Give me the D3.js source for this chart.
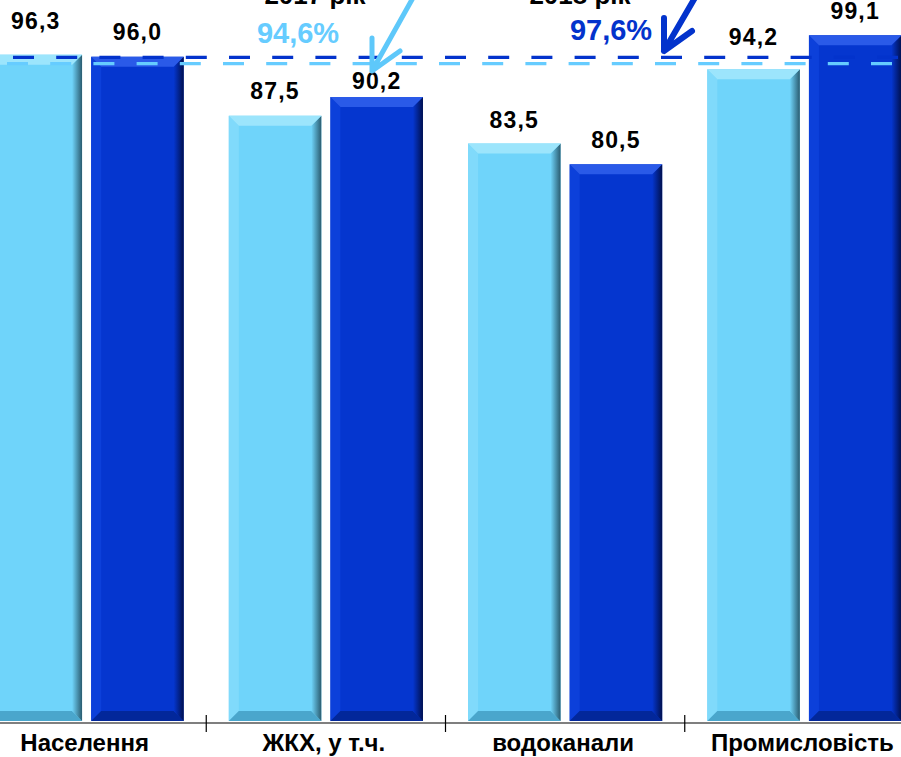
<!DOCTYPE html>
<html>
<head>
<meta charset="utf-8">
<script src="https://cdn.jsdelivr.net/npm/d3@7"></script>
<style>
  html, body { margin: 0; padding: 0; background: #fff; overflow: hidden; }
  svg { display: block; font-family: "Liberation Sans", Arial, sans-serif; }
</style>
</head>
<body>
<svg id="chart" width="901" height="757"></svg>
<script>
// Values. Decimal comma as in the original.
const categories = ['Населення', 'ЖКХ, у т.ч.', 'водоканали', 'Промисловість'];
const years = ['2017 рік', '2018 рік'];
const values2017 = [96.3, 87.5, 83.5, 94.2];
const values2018 = [96.0, 90.2, 80.5, 99.1];
const averages = [94.6, 97.6];
// the dashed average lines sit a little off their value in the picture
const averageLevels = [95.0, 95.9];

const W = 901, H = 757;
const baseY = 723;

// light / dark bar looks: base, top bevel, left bevel, right shade end, bottom bevel
const looks = [
  { base: '#6fd4fa', top: '#9ce5fc', left: '#80dafb', right: '#2a5c70', bottom: '#4aa6cc', line: '#66ccff' },
  { base: '#0536cf', top: '#2a5ae8', left: '#0c40da', right: '#00104f', bottom: '#02279a', line: '#0333cc' }
];
// how far each value label floats above its bar (manual placement in the source)
const labelLift = [[26, 17, 16, 24], [17, 8, 16, 16]];

const fmt = v => d3.format('.1f')(v).replace('.', ',');

const svg = d3.select('#chart');
const defs = svg.append('defs');
looks.forEach((l, i) => {
  const g = defs.append('linearGradient').attr('id', 'shade' + i)
      .attr('x1', 0).attr('x2', 1).attr('y1', 0).attr('y2', 0);
  g.append('stop').attr('offset', 0).attr('stop-color', l.base);
  g.append('stop').attr('offset', 1).attr('stop-color', l.right);
});

const x = d3.scaleBand().domain(categories).range([-33, 924]).padding(0);
const xs = d3.scaleBand().domain([0, 1]).range([0, x.bandwidth()])
    .paddingInner(0.09).paddingOuter(0.222);
const y = d3.scaleLinear().domain([0, 100]).range([baseY, 29]);

const series = [values2017, values2018];
const bars = [];
series.forEach((vals, s) => vals.forEach((v, c) => bars.push({ s, c, v })));

// bevelled bars
const b = 10;
const barG = svg.append('g');
bars.forEach(d => {
  const x0 = x(categories[d.c]) + xs(d.s), x1 = x0 + xs.bandwidth();
  const y0 = y(d.v), y1 = y(0) - 2;
  const l = looks[d.s];
  const g = barG.append('g');
  const poly = pts => pts.map(p => p.join(',')).join(' ');
  g.append('rect').attr('x', x0).attr('y', y0).attr('width', x1 - x0).attr('height', y1 - y0)
      .attr('fill', l.base);
  g.append('polygon').attr('points', poly([[x0, y0], [x0 + b, y0 + b], [x0 + b, y1 - b], [x0, y1]]))
      .attr('fill', l.left);
  g.append('polygon').attr('points', poly([[x0, y1], [x1, y1], [x1 - b, y1 - b], [x0 + b, y1 - b]]))
      .attr('fill', l.bottom);
  g.append('polygon').attr('points', poly([[x1, y0], [x1, y1], [x1 - b, y1 - b], [x1 - b, y0 + b]]))
      .attr('fill', `url(#shade${d.s})`);
  g.append('polygon').attr('points', poly([[x0, y0], [x1, y0], [x1 - b, y0 + b], [x0 + b, y0 + b]]))
      .attr('fill', l.top);
});

// value labels
svg.append('g').selectAll('text').data(bars).join('text')
    .attr('x', d => x(categories[d.c]) + xs(d.s) + xs.bandwidth() / 2)
    .attr('y', d => y(d.v) - labelLift[d.s][d.c])
    .attr('text-anchor', 'middle')
    .attr('font-size', 23).attr('font-weight', 'bold').attr('letter-spacing', 1.2)
    .attr('fill', '#000')
    .text(d => fmt(d.v));

// x axis: baseline, category boundary ticks, labels
svg.append('line').attr('x1', 0).attr('x2', W).attr('y1', baseY).attr('y2', baseY)
    .attr('stroke', '#000').attr('stroke-width', 1.2);
svg.append('g').selectAll('line').data(categories.slice(1)).join('line')
    .attr('x1', d => x(d)).attr('x2', d => x(d))
    .attr('y1', baseY - 8).attr('y2', baseY + 9)
    .attr('stroke', '#000').attr('stroke-width', 1.2);
svg.append('g').selectAll('text').data(categories).join('text')
    .attr('x', d => x(d) + x.bandwidth() / 2 - 2)
    .attr('y', 751)
    .attr('text-anchor', 'middle')
    .attr('font-size', 24).attr('font-weight', 'bold').attr('fill', '#000')
    .text(d => d);

// dashed average lines (light below dark)
const dashPhase = [7, 13];
averageLevels.forEach((lv, i) => {
  svg.append('line')
      .attr('x1', dashPhase[i] - 43.2).attr('x2', W)
      .attr('y1', y(lv)).attr('y2', y(lv))
      .attr('stroke', looks[i].line).attr('stroke-width', 3.2)
      .attr('stroke-dasharray', '21,22.2');
});

// annotations: year captions (cut by the top edge, as in the source), average labels, arrows
const notes = [
  { year: [315, 4], avg: [298, 43], tip: [372, 71], tail: [414, -4] },
  { year: [580, 4], avg: [611, 40], tip: [664, 51], tail: [696, -4] }
];
notes.forEach((n, i) => {
  svg.append('text').attr('x', n.year[0]).attr('y', n.year[1])
      .attr('text-anchor', 'middle').attr('font-size', 26).attr('font-weight', 'bold')
      .attr('fill', '#000').text(years[i]);
  svg.append('text').attr('x', n.avg[0]).attr('y', n.avg[1])
      .attr('text-anchor', 'middle').attr('font-size', 29).attr('font-weight', 'bold')
      .attr('fill', looks[i].line).text(fmt(averages[i]) + '%');
  const [tx, ty] = n.tip;
  const path = d3.path();
  path.moveTo(n.tail[0], n.tail[1]); path.lineTo(tx, ty);
  path.moveTo(tx, ty - 33); path.lineTo(tx, ty);
  path.lineTo(tx + 28, ty - 20);
  svg.append('path').attr('d', path.toString())
      .attr('fill', 'none').attr('stroke', i ? '#0333cc' : '#5ec8fa')
      .attr('stroke-width', i ? 6 : 5)
      .attr('stroke-linecap', 'round').attr('stroke-linejoin', 'round');
});
</script>
</body>
</html>
